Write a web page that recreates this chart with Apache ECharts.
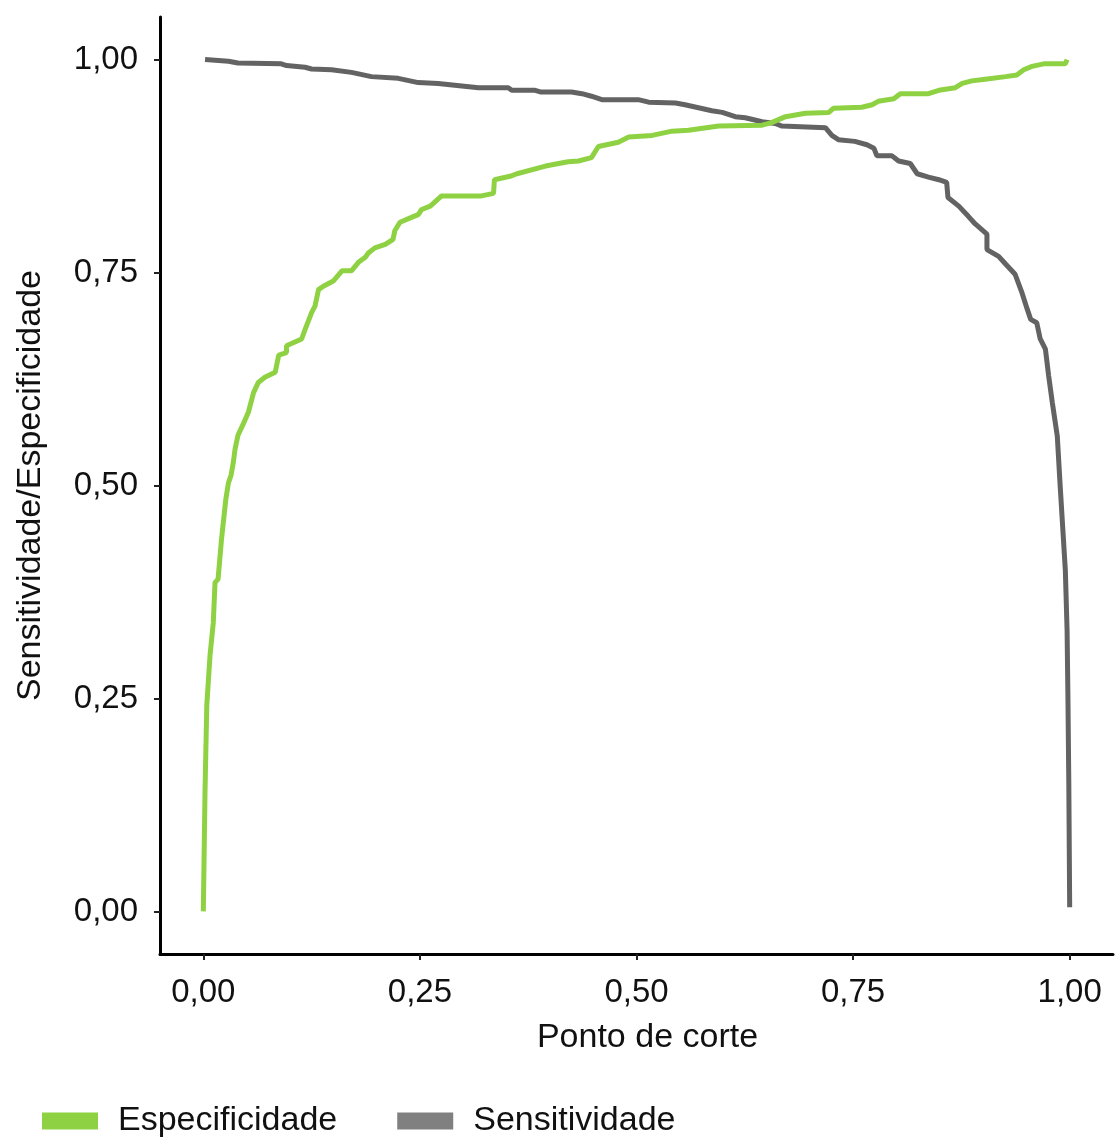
<!DOCTYPE html>
<html>
<head>
<meta charset="utf-8">
<script src="https://cdn.jsdelivr.net/npm/echarts@6/dist/echarts.min.js"></script>
<style>
html,body{margin:0;padding:0;background:#fff;}
#chart{width:1115px;height:1137px;}
</style>
</head>
<body>
<div id="chart"></div>
<script>
// Tick values
const tickValues = [0, 0.25, 0.5, 0.75, 1];

// Especificidade (x = ponto de corte, y = valor)
const especCorte = [0,0.002,0.004,0.0077,0.0115,0.0135,0.017,0.021,0.026,0.029,0.032,0.0346,0.0366,0.040,0.046,0.052,0.058,0.0635,0.071,0.083,0.087,0.096,0.096,0.1135,0.1174,0.125,0.129,0.133,0.1386,0.150,0.160,0.171,0.179,0.187,0.1905,0.198,0.210,0.219,0.221,0.227,0.241,0.248,0.252,0.262,0.275,0.321,0.335,0.336,0.354,0.362,0.395,0.421,0.433,0.448,0.456,0.479,0.491,0.518,0.541,0.560,0.595,0.645,0.656,0.672,0.695,0.722,0.7275,0.760,0.772,0.779,0.797,0.8045,0.837,0.849,0.868,0.876,0.887,0.9025,0.926,0.939,0.947,0.9565,0.970,0.995,0.997];
const especValor = [0,0.143,0.242,0.30,0.339,0.386,0.39,0.437,0.484,0.503,0.512,0.527,0.5425,0.559,0.572,0.586,0.609,0.621,0.627,0.633,0.653,0.656,0.664,0.672,0.683,0.703,0.711,0.730,0.734,0.740,0.752,0.752,0.762,0.768,0.773,0.779,0.783,0.789,0.799,0.809,0.815,0.818,0.824,0.828,0.840,0.840,0.843,0.859,0.863,0.866,0.875,0.880,0.881,0.885,0.898,0.903,0.909,0.911,0.916,0.917,0.922,0.923,0.926,0.933,0.937,0.938,0.943,0.944,0.947,0.951,0.954,0.960,0.960,0.964,0.967,0.972,0.975,0.977,0.980,0.982,0.988,0.992,0.995,0.995,1.0];

// Sensitividade
const sensCorte = [0.002,0.029,0.040,0.090,0.096,0.1174,0.125,0.148,0.171,0.194,0.225,0.248,0.271,0.3176,0.352,0.356,0.383,0.389,0.425,0.437,0.448,0.460,0.502,0.514,0.545,0.556,0.587,0.599,0.614,0.6255,0.645,0.660,0.668,0.718,0.7255,0.733,0.752,0.766,0.774,0.7775,0.795,0.8025,0.816,0.824,0.837,0.849,0.858,0.8595,0.872,0.883,0.891,0.9045,0.9045,0.918,0.926,0.937,0.945,0.951,0.955,0.962,0.966,0.972,0.9757,0.980,0.9857,0.989,0.992,0.995,0.997,0.998,0.999,1.0];
const sensValor = [1.0,0.998,0.996,0.995,0.993,0.991,0.989,0.988,0.985,0.980,0.978,0.973,0.972,0.967,0.967,0.964,0.964,0.962,0.962,0.960,0.957,0.953,0.953,0.950,0.949,0.947,0.940,0.938,0.933,0.9317,0.927,0.925,0.922,0.920,0.911,0.906,0.904,0.900,0.896,0.887,0.887,0.881,0.878,0.866,0.862,0.859,0.856,0.838,0.828,0.816,0.807,0.795,0.777,0.769,0.760,0.748,0.726,0.707,0.695,0.691,0.672,0.660,0.629,0.597,0.558,0.50,0.45,0.40,0.33,0.25,0.15,0.005];

const especData = especCorte.map((x, i) => [x, especValor[i]]);
const sensData = sensCorte.map((x, i) => [x, sensValor[i]]);

const GREEN = '#8ED243';
const GRAY = '#636363';
const FONT = '"Liberation Sans", Arial, sans-serif';
const fmt = v => v.toFixed(2).replace('.', ',');

const chart = echarts.init(document.getElementById('chart'), null, {renderer: 'canvas'});
chart.setOption({
  animation: false,
  backgroundColor: '#ffffff',
  grid: {left: 160, right: 2, top: 17, bottom: 183, containLabel: false},
  xAxis: {
    type: 'value', min: -0.05, max: 1.05,
    name: 'Ponto de corte', nameLocation: 'middle', nameGap: 67,
    nameTextStyle: {fontFamily: FONT, fontSize: 34, color: '#111', padding: [0, 0, 0, 22]},
    axisLine: {show: true, onZero: false, lineStyle: {color: '#000', width: 3}},
    axisTick: {show: true, length: 6, customValues: tickValues, lineStyle: {color: '#222', width: 2}},
    axisLabel: {customValues: tickValues, formatter: fmt, fontFamily: FONT, fontSize: 33, color: '#111', margin: 22},
    splitLine: {show: false}
  },
  yAxis: {
    type: 'value', min: -0.05, max: 1.05,
    name: 'Sensitividade/Especificidade', nameLocation: 'middle', nameGap: 112,
    nameTextStyle: {fontFamily: FONT, fontSize: 34, color: '#111'},
    axisLine: {show: true, onZero: false, lineStyle: {color: '#000', width: 3}},
    axisTick: {show: true, length: 6, customValues: tickValues, lineStyle: {color: '#222', width: 2}},
    axisLabel: {customValues: tickValues, formatter: fmt, fontFamily: FONT, fontSize: 33, color: '#111', margin: 22},
    splitLine: {show: false}
  },
  legend: {
    left: 37, top: 1099, orient: 'horizontal',
    icon: 'rect', itemWidth: 56, itemHeight: 17, itemGap: 60,
    textStyle: {fontFamily: FONT, fontSize: 34, color: '#111', padding: [0, 0, 0, 15]},
    data: [
      {name: 'Especificidade', itemStyle: {color: GREEN}},
      {name: 'Sensitividade', itemStyle: {color: '#808080'}}
    ]
  },
  series: [
    {
      name: 'Sensitividade', type: 'line', data: sensData, showSymbol: false, symbol: 'none',
      lineStyle: {color: GRAY, width: 5}, itemStyle: {color: GRAY}, z: 2, clip: false
    },
    {
      name: 'Especificidade', type: 'line', data: especData, showSymbol: false, symbol: 'none',
      lineStyle: {color: GREEN, width: 5}, itemStyle: {color: GREEN}, z: 3, clip: false
    }
  ]
});
</script>
</body>
</html>
